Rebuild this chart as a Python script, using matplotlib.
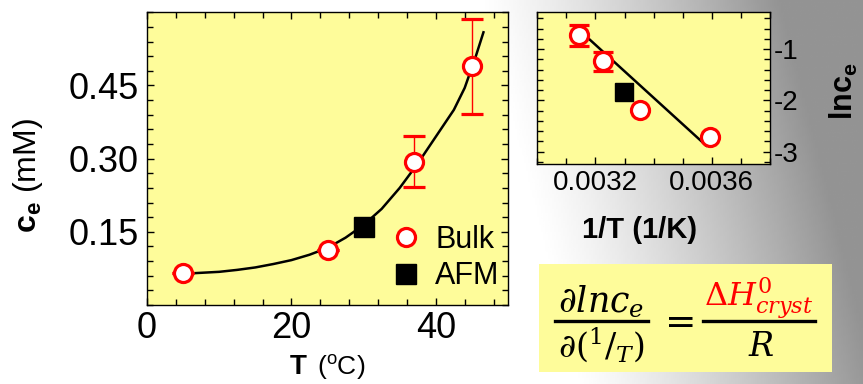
import numpy as np
import matplotlib
matplotlib.use('Agg')
import matplotlib.pyplot as plt
from matplotlib.ticker import MultipleLocator, FormatStrFormatter, FixedLocator
from matplotlib.patches import Rectangle
from matplotlib.lines import Line2D

# 数据
temp_bulk = [5, 25, 37, 45]
ce_bulk = [0.066, 0.113, 0.294, 0.489]
ce_bulk_err = [0.0, 0.0, 0.053, 0.098]
temp_afm = [30]
ce_afm = [0.159]

# 主图拟合曲线（沿曲线读点）
fit_temp = [5, 7.5, 10, 12.5, 15, 17.5, 20, 22.5, 25, 27.5, 30, 32.5, 35, 37.5,
            40, 42.5, 44, 45.5, 46.6]
fit_ce = [0.064, 0.066, 0.068, 0.072, 0.077, 0.084, 0.092, 0.103, 0.117, 0.138,
          0.164, 0.197, 0.240, 0.290, 0.345, 0.400, 0.445, 0.508, 0.559]

# 插图直线端点
fit_inv_t = [0.003143, 0.003581]
fit_lnc = [-0.62, -2.883]

plt.rcParams['font.family'] = ['Liberation Sans', 'DejaVu Sans']
plt.rcParams['axes.unicode_minus'] = False
plt.rcParams['mathtext.fontset'] = 'custom'
plt.rcParams['mathtext.rm'] = 'Liberation Sans'
plt.rcParams['mathtext.bf'] = 'Liberation Sans:bold'
plt.rcParams['mathtext.it'] = 'Liberation Sans:italic'

YELLOW = '#FEFC9A'
W, H = 863, 384

fig = plt.figure(figsize=(W / 100, H / 100), dpi=100)

# 背景渐变
bg = fig.add_axes([0, 0, 1, 1], zorder=-10)
gx = np.linspace(0, W, 400)
gy = np.linspace(0, H, 100)
GX, GY = np.meshgrid(gx, gy)
g = np.clip((GX - 575 + 0.25 * (H - GY)) / 300.0, 0, 1) ** 1.2
bg.imshow(1 - 0.42 * g, cmap='gray', vmin=0, vmax=1, extent=[0, 1, 0, 1],
          aspect='auto', origin='upper')
bg.set_axis_off()


def px_box(left, top, right, bottom):
    return [left / W, 1 - bottom / H, (right - left) / W, (bottom - top) / H]


def style_axes(ax, size):
    ax.set_facecolor(YELLOW)
    for sp in ax.spines.values():
        sp.set_linewidth(1.0)
    ax.tick_params(which='both', direction='in', top=True, right=True,
                   width=1.0, labelsize=size)
    ax.tick_params(which='major', length=5)
    ax.tick_params(which='minor', length=4)


# 主图
ax1 = fig.add_axes(px_box(147, 12.3, 508, 305))
style_axes(ax1, 26)
ax1.plot(fit_temp, fit_ce, color='black', lw=1.8, zorder=2)
ax1.errorbar(temp_bulk, ce_bulk, yerr=ce_bulk_err, fmt='o', ms=13, mfc='white',
             mec='red', mew=2.3, ecolor='red', elinewidth=1.0, capsize=8,
             capthick=1.0, zorder=3)
ax1.plot(temp_afm, ce_afm, 's', color='black', ms=14, zorder=4)
ax1.set_xlim(0, 50)
ax1.set_ylim(0, 0.6)
ax1.xaxis.set_major_locator(FixedLocator([0, 20, 40]))
ax1.xaxis.set_minor_locator(MultipleLocator(4))
ax1.yaxis.set_major_locator(FixedLocator([0.15, 0.30, 0.45]))
ax1.yaxis.set_major_formatter(FormatStrFormatter('%.2f'))
ax1.yaxis.set_minor_locator(MultipleLocator(0.03))
ax1.tick_params(axis='x', pad=4)
ax1.tick_params(axis='y', pad=6)

handles = [Line2D([], [], ls='', marker='o', ms=13, mfc='white', mec='red', mew=2.3),
           Line2D([], [], ls='', marker='s', ms=14, color='black')]
ax1.legend(handles, ['Bulk', 'AFM'], loc='upper left', bbox_to_anchor=(0.676, 0.273),
           frameon=False, fontsize=22, handlelength=1.0, handletextpad=0.45,
           borderpad=0, borderaxespad=0, labelspacing=0.2)

fig.text(28 / W, 1 - 175 / H, r'$\mathbf{c_e}$ (mM)', rotation=90, fontsize=23,
         ha='center', va='center')
fig.text(307 / W, 1 - 367 / H, 'T', fontsize=20, fontweight='bold',
         ha='right', va='center')
fig.text(317 / W, 1 - 367 / H, r'($^{\mathrm{o}}$C)', fontsize=19,
         ha='left', va='center')

# 插图
inv_t_bulk = 1.0 / (np.array(temp_bulk) + 273.15)
lnc_bulk = np.log(ce_bulk)
err_lo = lnc_bulk - np.log(np.array(ce_bulk) - np.array(ce_bulk_err))
err_hi = np.log(np.array(ce_bulk) + np.array(ce_bulk_err)) - lnc_bulk
inv_t_afm = 1.0 / (np.array(temp_afm) + 273.15)
lnc_afm = np.log(ce_afm)

ax2 = fig.add_axes(px_box(537.3, 12.3, 770, 164))
style_axes(ax2, 20)
ax2.plot(fit_inv_t, fit_lnc, color='black', lw=1.8, zorder=2)
ax2.errorbar(inv_t_bulk, lnc_bulk, yerr=[err_lo, err_hi], fmt='o', ms=13,
             mfc='white', mec='red', mew=2.3, ecolor='red', elinewidth=1.0,
             capsize=7.5, capthick=2.5, zorder=3)
ax2.plot(inv_t_afm, lnc_afm, 's', color='black', ms=13, zorder=4)
ax2.set_xlim(0.0030, 0.0038)
ax2.set_ylim(-3.24, -0.28)
ax2.xaxis.set_major_locator(FixedLocator([0.0032, 0.0036]))
ax2.xaxis.set_major_formatter(FormatStrFormatter('%.4f'))
ax2.xaxis.set_minor_locator(MultipleLocator(0.0001))
ax2.yaxis.set_major_locator(FixedLocator([-1, -2, -3]))
ax2.yaxis.set_major_formatter(FormatStrFormatter('%d'))
ax2.yaxis.set_minor_locator(MultipleLocator(0.2))
ax2.tick_params(axis='y', labelleft=False, labelright=True, pad=3)
ax2.tick_params(axis='x', pad=4)

fig.text(844 / W, 1 - 91 / H, r'$\mathbf{lnc_e}$', rotation=90, fontsize=22,
         ha='center', va='center')
fig.text(640 / W, 1 - 230 / H, '1/T (1/K)', fontsize=21, fontweight='bold',
         ha='center', va='center')

# 公式框
fig.patches.append(Rectangle((539.3 / W, 1 - 371.7 / H), (831.7 - 539.3) / W,
                             (371.7 - 264) / H, transform=fig.transFigure,
                             facecolor=YELLOW, edgecolor='none'))
fig.text(601 / W, 1 - 302 / H, r'$\partial lnc_e$', fontsize=25, ha='center',
         va='center', math_fontfamily='dejavuserif')
fig.text(601 / W, 1 - 345 / H, r'$\partial(^1/_T)$', fontsize=24, ha='center',
         va='center', math_fontfamily='dejavuserif')
fig.add_artist(Line2D([555 / W, 648 / W], [1 - 320.7 / H, 1 - 320.7 / H],
                      transform=fig.transFigure, color='black', lw=2.4))
fig.text(675 / W, 1 - 322 / H, r'$=$', fontsize=27, ha='center', va='center',
         math_fontfamily='dejavuserif')
fig.text(759 / W, 1 - 298 / H, r'$\Delta H^0_{cryst}$', fontsize=23, ha='center',
         va='center', color='red', math_fontfamily='dejavuserif')
fig.add_artist(Line2D([703 / W, 815 / W], [1 - 320.7 / H, 1 - 320.7 / H],
                      transform=fig.transFigure, color='black', lw=2.4))
fig.text(761 / W, 1 - 347 / H, r'$R$', fontsize=24, ha='center', va='center',
         math_fontfamily='dejavuserif')

plt.savefig('out.png', dpi=100)
plt.close()
